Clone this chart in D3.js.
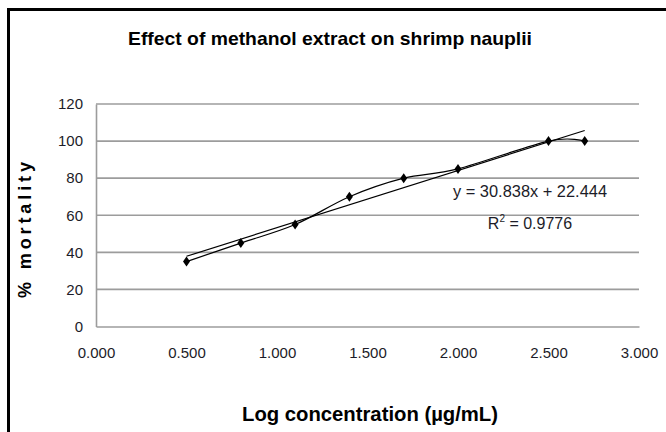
<!DOCTYPE html>
<html>
<head>
<meta charset="utf-8">
<script src="https://cdn.jsdelivr.net/npm/d3@7"></script>
<style>
  body { margin: 0; background: #fff; }
  svg { display: block; }
</style>
</head>
<body>
<svg class="chartsvg" width="666" height="432"></svg>
<script>
// log concentration vs % mortality
var logConc = [0.5, 0.8, 1.1, 1.4, 1.7, 2.0, 2.5, 2.7];
var mortality = [35, 45, 55, 70, 80, 85, 100, 100];
var xTicks = [0, 0.5, 1, 1.5, 2, 2.5, 3];
var yTicks = [0, 20, 40, 60, 80, 100, 120];
var trendSlope = 30.838,
    trendIntercept = 22.444,
    trendR2 = 0.9776;

var svg = d3.select(".chartsvg");

// outer frame
svg.append("rect")
    .attr("x", 8.5)
    .attr("y", 9.5)
    .attr("width", 700)
    .attr("height", 500)
    .attr("fill", "none")
    .attr("stroke", "#000")
    .attr("stroke-width", 3);

var xScale = d3.scaleLinear().domain([0, 3]).range([96, 639]);
var yScale = d3.scaleLinear().domain([0, 120]).range([326.5, 104]);

var labelFont = "'Liberation Sans', Arial, sans-serif";

// gridlines
svg.append("g")
    .selectAll("line")
    .data(yTicks.filter(function(d) { return d > 0; }))
    .enter()
    .append("line")
    .attr("x1", xScale(0))
    .attr("x2", xScale(3))
    .attr("y1", function(d) { return yScale(d); })
    .attr("y2", function(d) { return yScale(d); })
    .attr("stroke", "#9c9c9c")
    .attr("stroke-width", 1.6);

// axes (no tick marks, gray lines)
var yAxis = svg.append("g")
    .attr("transform", "translate(" + xScale(0) + ",0)")
    .call(d3.axisLeft(yScale).tickValues(yTicks).tickSize(0).tickPadding(13).tickFormat(d3.format("d")));

var xAxis = svg.append("g")
    .attr("transform", "translate(0," + yScale(0) + ")")
    .call(d3.axisBottom(xScale).tickValues(xTicks).tickSize(0).tickPadding(21).tickFormat(d3.format(".3f")));

[xAxis, yAxis].forEach(function(ax) {
    ax.select(".domain")
        .attr("stroke", "#9c9c9c")
        .attr("stroke-width", 1.6);
    ax.selectAll("text")
        .attr("fill", "#1c1c28")
        .style("font-family", labelFont)
        .style("font-size", "15px");
});

// trendline
var trendX = [d3.min(logConc), d3.max(logConc)];
svg.append("line")
    .attr("x1", xScale(trendX[0]))
    .attr("y1", yScale(trendSlope * trendX[0] + trendIntercept))
    .attr("x2", xScale(trendX[1]))
    .attr("y2", yScale(trendSlope * trendX[1] + trendIntercept))
    .attr("stroke", "#000")
    .attr("stroke-width", 1.2);

// smoothed data line
var pts = logConc.map(function(d, i) { return [d, mortality[i]]; });
var line = d3.line()
    .x(function(d) { return xScale(d[0]); })
    .y(function(d) { return yScale(d[1]); })
    .curve(d3.curveCatmullRom.alpha(0));

svg.append("path")
    .datum(pts)
    .attr("d", line)
    .attr("fill", "none")
    .attr("stroke", "#000")
    .attr("stroke-width", 1.2);

// diamond markers
svg.append("g")
    .selectAll("path")
    .data(pts)
    .enter()
    .append("path")
    .attr("d", "M0,-5L3.5,0L0,5L-3.5,0Z")
    .attr("transform", function(d) { return "translate(" + xScale(d[0]) + "," + yScale(d[1]) + ")"; })
    .attr("fill", "#000");

// equation labels
svg.append("text")
    .attr("x", 530)
    .attr("y", 197)
    .attr("text-anchor", "middle")
    .attr("textLength", 154)
    .attr("lengthAdjust", "spacingAndGlyphs")
    .attr("fill", "#1c1c28")
    .style("font-family", labelFont)
    .style("font-size", "16px")
    .text("y = " + trendSlope + "x + " + trendIntercept);

var r2 = svg.append("text")
    .attr("x", 530)
    .attr("y", 229)
    .attr("text-anchor", "middle")
    .attr("fill", "#1c1c28")
    .style("font-family", labelFont)
    .style("font-size", "16px");
r2.append("tspan").text("R");
r2.append("tspan").attr("dy", -7).style("font-size", "10px").text("2");
r2.append("tspan").attr("dy", 7).text(" = " + trendR2);

// titles
svg.append("text")
    .attr("x", 330)
    .attr("y", 45)
    .attr("text-anchor", "middle")
    .attr("textLength", 404)
    .attr("lengthAdjust", "spacingAndGlyphs")
    .style("font-family", labelFont)
    .style("font-weight", "bold")
    .style("font-size", "19px")
    .text("Effect of methanol extract on shrimp nauplii");

svg.append("text")
    .attr("transform", "translate(31,230) rotate(-90)")
    .attr("text-anchor", "middle")
    .attr("textLength", 136)
    .attr("lengthAdjust", "spacing")
    .style("font-family", labelFont)
    .style("font-weight", "bold")
    .style("font-size", "18px")
    .text("% mortality");

svg.append("text")
    .attr("x", 370)
    .attr("y", 421)
    .attr("text-anchor", "middle")
    .attr("textLength", 256)
    .attr("lengthAdjust", "spacingAndGlyphs")
    .style("font-family", labelFont)
    .style("font-weight", "bold")
    .style("font-size", "20px")
    .text("Log concentration (µg/mL)");
</script>
</body>
</html>
